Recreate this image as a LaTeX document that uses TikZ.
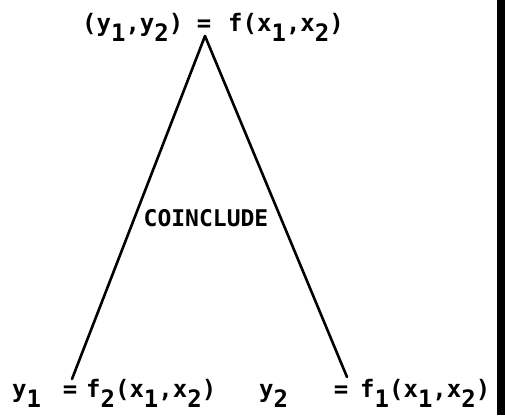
\documentclass[tikz,border=0pt]{standalone}
\usepackage{fontspec}
\newfontfamily\tw{DejaVu Sans Mono}
\newcommand{\lo}[1]{\raisebox{-0.42em}{#1}}
\begin{document}
\begin{tikzpicture}[x=1pt,y=-1pt,
  lbl/.style={inner sep=0pt,anchor=base west,font=\tw\bfseries\fontsize{24}{28}\selectfont},
  eq/.style={inner sep=0pt,anchor=base,font=\tw\bfseries\fontsize{24}{28}\selectfont},
  branch/.style={line width=2.6pt,line cap=round}]
\useasboundingbox (0,0) rectangle (505,415);
% top
\node[lbl] (topl) at (82,31) {(y\lo{1},y\lo{2})};
\node[eq] (topeq) at (204,31) {=};
\node[lbl] (topr) at (228,31) {f(x\lo{1},x\lo{2})};
% bottom left
\node[lbl] (ll) at (12,397) {y\lo{1}};
\node[eq] (leq) at (70,397) {=};
\node[lbl] (lr) at (86,397) {f\lo{2}(x\lo{1},x\lo{2})};
% bottom right
\node[lbl] (rl) at (259,397) {y\lo{2}};
\node[eq] (req) at (341,397) {=};
\node[lbl] (rr) at (360,397) {f\lo{1}(x\lo{1},x\lo{2})};
% middle label
\node[inner sep=0pt,font=\tw\bfseries\fontsize{23}{26}\selectfont] (co) at (206,218.5) {COINCLUDE};
\coordinate (apex) at (205,36);
\coordinate (lend) at (72,379);
\coordinate (rend) at (347,377);
\draw[branch] (apex) -- (lend);
\draw[branch] (apex) -- (rend);
\fill[black] (497,0) rectangle (505,415);
\end{tikzpicture}
\end{document}
